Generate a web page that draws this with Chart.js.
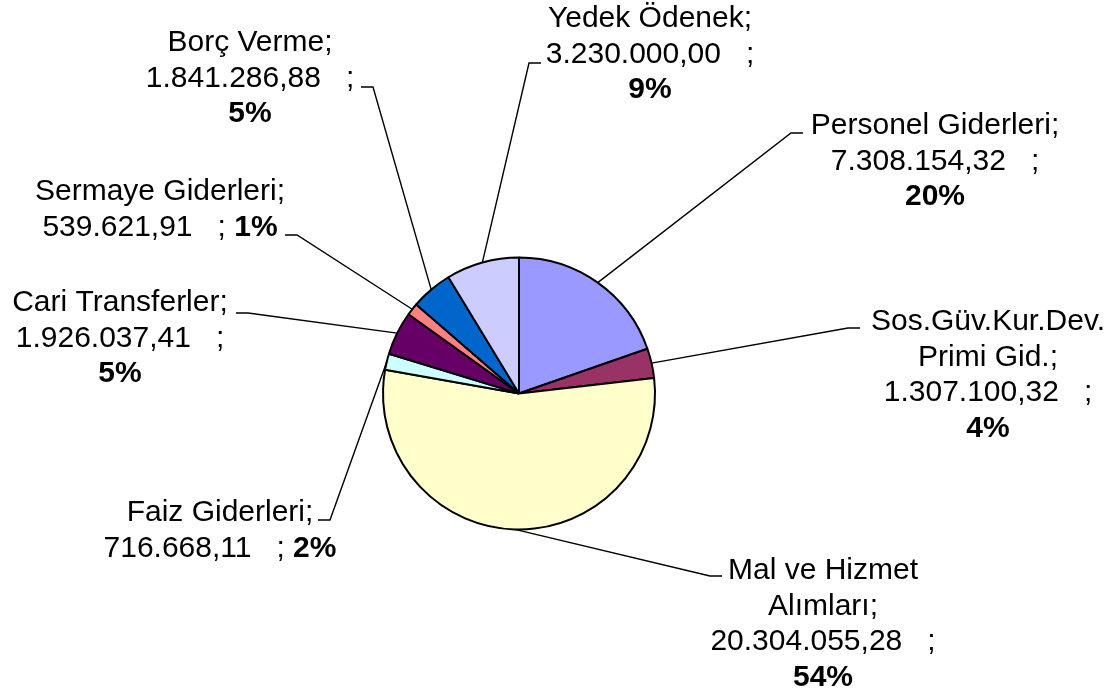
<!DOCTYPE html>
<html lang="tr">
<head>
  <meta charset="UTF-8" />
  <title>Gider Dağılımı</title>
  <script src="https://cdn.jsdelivr.net/npm/chart.js"></script>
  <style>
    html, body { margin: 0; padding: 0; background: #fff; }
    #wrap { width: 1119px; height: 691px; position: relative; }
  </style>
</head>
<body>
  <div id="wrap"><canvas id="pie"></canvas></div>

  <script>
    // data
    const categories = [
      'Personel Giderleri',
      'Sos.Güv.Kur.Dev.\nPrimi Gid.',
      'Mal ve Hizmet\nAlımları',
      'Faiz Giderleri',
      'Cari Transferler',
      'Sermaye Giderleri',
      'Borç Verme',
      'Yedek Ödenek'
    ];
    const amounts = [7308154.32, 1307100.32, 20304055.28, 716668.11, 1926037.41, 539621.91, 1841286.88, 3230000.00];
    const percentLabels = ['20%', '4%', '54%', '2%', '5%', '1%', '5%', '9%'];
    const sliceColors = ['#9999FF', '#993366', '#FFFFCC', '#CCFFFF', '#660066', '#FF8080', '#0066CC', '#CCCCFF'];

    // label placement: centre x, first baseline, leader elbow, tick direction, percent on same line
    const labelLayout = [
      { x: 935, y: 134, ex: 791, ey: 133, dir: 1,  inline: false },
      { x: 988, y: 330, ex: 848, ey: 328, dir: 1,  inline: false },
      { x: 823, y: 579, ex: 710, ey: 576, dir: 1,  inline: false },
      { x: 220, y: 521, ex: 330, ey: 520, dir: -1, inline: true },
      { x: 120, y: 311, ex: 248, ey: 313, dir: -1, inline: false },
      { x: 160, y: 200, ex: 297, ey: 235, dir: -1, inline: true },
      { x: 250, y: 51,  ex: 373, ey: 87,  dir: -1, inline: false },
      { x: 650, y: 27,  ex: 529, ey: 63,  dir: 1,  inline: false }
    ];

    const FONT = '"Liberation Sans", Arial, sans-serif';
    const SIZE = 30;
    const LINE = 35.5;

    function formatTr(v) {
      const parts = v.toFixed(2).split('.');
      return parts[0].replace(/\B(?=(\d{3})+(?!\d))/g, '.') + ',' + parts[1];
    }

    const pieLabels = {
      id: 'pieLabels',
      afterDatasetsDraw(chart) {
        const ctx = chart.ctx;
        const arcs = chart.getDatasetMeta(0).data;
        ctx.save();
        ctx.strokeStyle = '#000';
        ctx.lineWidth = 1.4;
        ctx.fillStyle = '#000';
        ctx.textBaseline = 'alphabetic';
        arcs.forEach((arc, i) => {
          const p = arc.getProps(['x', 'y', 'startAngle', 'endAngle', 'outerRadius'], true);
          const mid = (p.startAngle + p.endAngle) / 2;
          const sx = p.x + Math.cos(mid) * p.outerRadius;
          const sy = p.y + Math.sin(mid) * p.outerRadius;
          const L = labelLayout[i];
          ctx.beginPath();
          ctx.moveTo(sx, sy);
          ctx.lineTo(L.ex, L.ey);
          ctx.lineTo(L.ex + L.dir * 12, L.ey);
          ctx.stroke();

          const lines = categories[i].split('\n').map(t => [{ t, b: false }]);
          lines[lines.length - 1][0].t += ';';
          const val = { t: formatTr(amounts[i]) + '   ;', b: false };
          const pct = { t: percentLabels[i], b: true };
          if (L.inline) {
            lines.push([{ t: val.t + ' ', b: false }, pct]);
          } else {
            lines.push([val]);
            lines.push([pct]);
          }
          lines.forEach((parts, k) => {
            let w = 0;
            parts.forEach(pt => {
              ctx.font = (pt.b ? 'bold ' : '') + SIZE + 'px ' + FONT;
              pt.w = ctx.measureText(pt.t).width;
              w += pt.w;
            });
            let cx = L.x - w / 2;
            ctx.textAlign = 'left';
            parts.forEach(pt => {
              ctx.font = (pt.b ? 'bold ' : '') + SIZE + 'px ' + FONT;
              ctx.fillText(pt.t, cx, L.y + k * LINE);
              cx += pt.w;
            });
          });
        });
        ctx.restore();
      }
    };

    new Chart(document.getElementById('pie'), {
      type: 'pie',
      data: {
        labels: categories,
        datasets: [{
          data: amounts,
          backgroundColor: sliceColors,
          borderColor: '#000',
          borderWidth: 2,
          radius: 136
        }]
      },
      options: {
        responsive: true,
        maintainAspectRatio: false,
        animation: false,
        layout: { padding: { left: 381, right: 462, top: 256, bottom: 160 } },
        plugins: {
          legend: { display: false },
          tooltip: { enabled: false }
        }
      },
      plugins: [pieLabels]
    });
  </script>
</body>
</html>
